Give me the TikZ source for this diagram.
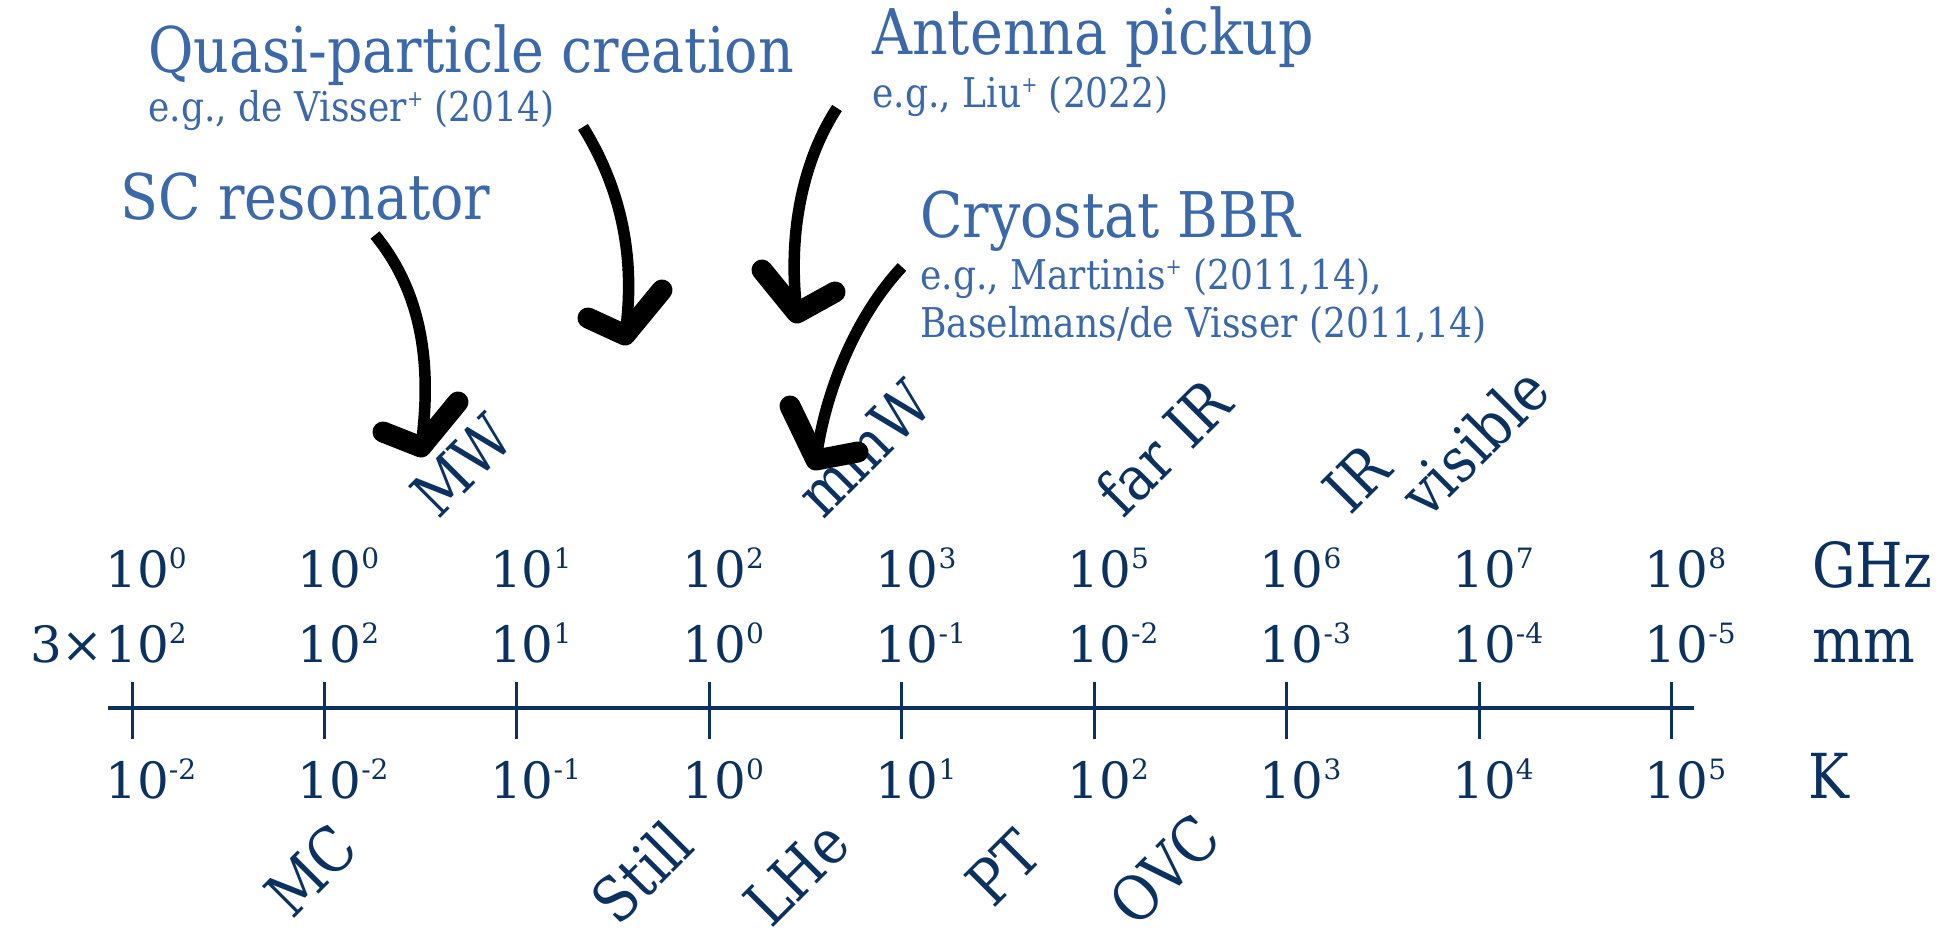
\documentclass[tikz,border=0pt]{standalone}
\usepackage{fontspec}
\setmainfont{DejaVu Serif}
% a narrower cut of the serif for words, so they can be set taller
\newfontfamily\narrowserif{DejaVu Serif}[FakeStretch=0.88]

\definecolor{labelblue}{RGB}{58,104,170}
\definecolor{axisnavy}{RGB}{11,49,97}

% power of ten with a raised exponent
\newcommand\tenpow[1]{10\raisebox{19pt}{\fontsize{28}{28}\selectfont #1}}
% small raised plus after an author name
\newcommand\citeplus{\raisebox{15pt}{\fontsize{22}{22}\selectfont +}}

\tikzset{
  headline/.style={anchor=base west, inner sep=0pt, text=labelblue, font=\narrowserif\fontsize{63}{66}\selectfont},
  reflabel/.style={anchor=base west, inner sep=0pt, text=labelblue, font=\narrowserif\fontsize{41}{44}\selectfont},
  val/.style={anchor=base west, inner sep=0pt, text=axisnavy, font=\fontsize{50}{55}\selectfont},
  unitlabel/.style={anchor=base west, inner sep=0pt, text=axisnavy, font=\narrowserif\fontsize{62}{66}\selectfont},
  band/.style={anchor=base west, inner sep=0pt, text=axisnavy, rotate=45, font=\narrowserif\fontsize{62}{66}\selectfont},
  axisline/.style={draw=axisnavy, line width=4.5pt},
  tickmark/.style={draw=axisnavy, line width=3pt},
  shaft/.style={draw=black, line width=11.5pt},
  tiphead/.style={draw=black, line width=21pt, line cap=round, line join=round},
}

\begin{document}
\begin{tikzpicture}[x=1pt,y=-1pt]
\useasboundingbox (0,0) rectangle (1959,942);

% ---- scale axis with three rows of values
\coordinate (axL) at (108,708);
\coordinate (axR) at (1694,708);
\draw[axisline] (axL) -- (axR);

\foreach \i/\f/\l/\k in {0/0/2/-2, 1/0/2/-2, 2/1/1/-1, 3/2/0/0, 4/3/-1/1,
                         5/5/-2/2, 6/6/-3/3, 7/7/-4/4, 8/8/-5/5} {
  \pgfmathsetmacro\tx{132+192.45*\i}
  \coordinate (t\i) at (\tx,708);
  \draw[tickmark] ([yshift=26pt]t\i) -- ([yshift=-31pt]t\i);
  \node[val] (f\i) at (\tx-27,587) {\tenpow{\f}};
  \node[val] (w\i) at (\tx-27,662) {\tenpow{\l}};
  \node[val] (k\i) at (\tx-27,798) {\tenpow{\k}};
}

\node[val, anchor=base east] (three) at (104,662) {3{\fontsize{50}{50}\selectfont ×}};
\node[unitlabel] (ghz) at (1812,587) {GHz};
\node[unitlabel] (mm) at (1812,662) {mm};
\node[unitlabel] (kel) at (1808,798) {K};

% ---- spectral bands above the axis
\node[band] (mw) at (438,521) {MW};
\node[band] (mmw) at (823,521) {mmW};
\node[band] (farir) at (1123,520) {far IR};
\node[band] (ir) at (1350,517) {IR};
\node[band] (vis) at (1427,521) {visible};

% ---- cryostat stages below the axis
\node[band] (mc) at (292,921) {MC};
\node[band] (still) at (618,928) {Still};
\node[band] (lhe) at (771,930) {LHe};
\node[band] (pt) at (993,910) {PT};
\node[band] (ovc) at (1136,930) {OVC};

% ---- loss mechanisms
\node[headline] (qp) at (148,73) {Quasi-particle creation};
\node[reflabel] (qpref) at (148,121) {e.g., de Visser\citeplus{} (2014)};
\node[headline] (sc) at (120,219) {SC resonator};
\node[headline] (ant) at (872,55) {Antenna pickup};
\node[reflabel] (antref) at (872,107) {e.g., Liu\citeplus{} (2022)};
\node[headline] (bbr) at (920,237) {Cryostat BBR};
\node[reflabel] (bbrref1) at (920,289) {e.g., Martinis\citeplus{} (2011,14),};
\node[reflabel] (bbrref2) at (920,337) {Baselmans/de Visser (2011,14)};

% ---- hand-drawn arrows
% SC resonator -> MW
\coordinate (a1s) at (375,235);
\coordinate (a1t) at (421,447);
\coordinate (a1l) at (383,432);
\coordinate (a1r) at (458,402);
\draw[shaft] (a1s) .. controls (420,290) and (433,360) .. (a1t);
\draw[tiphead] (a1l) -- (a1t) -- (a1r);

% quasi-particle creation
\coordinate (a2s) at (583,127);
\coordinate (a2t) at (625,335);
\coordinate (a2l) at (588,318);
\coordinate (a2r) at (662,290);
\draw[shaft] (a2s) .. controls (622,190) and (636,260) .. (a2t);
\draw[tiphead] (a2l) -- (a2t) -- (a2r);

% antenna pickup
\coordinate (a3s) at (837,108);
\coordinate (a3t) at (797,313);
\coordinate (a3l) at (762,270);
\coordinate (a3r) at (835,292);
\draw[shaft] (a3s) .. controls (800,165) and (788,240) .. (a3t);
\draw[tiphead] (a3l) -- (a3t) -- (a3r);

% cryostat BBR -> mmW
\coordinate (a4s) at (902,267);
\coordinate (a4t) at (816,460);
\coordinate (a4l) at (790,406);
\coordinate (a4r) at (858,452);
\draw[shaft] (a4s) .. controls (857,315) and (825,390) .. (a4t);
\draw[tiphead] (a4l) -- (a4t) -- (a4r);
\end{tikzpicture}
\end{document}
